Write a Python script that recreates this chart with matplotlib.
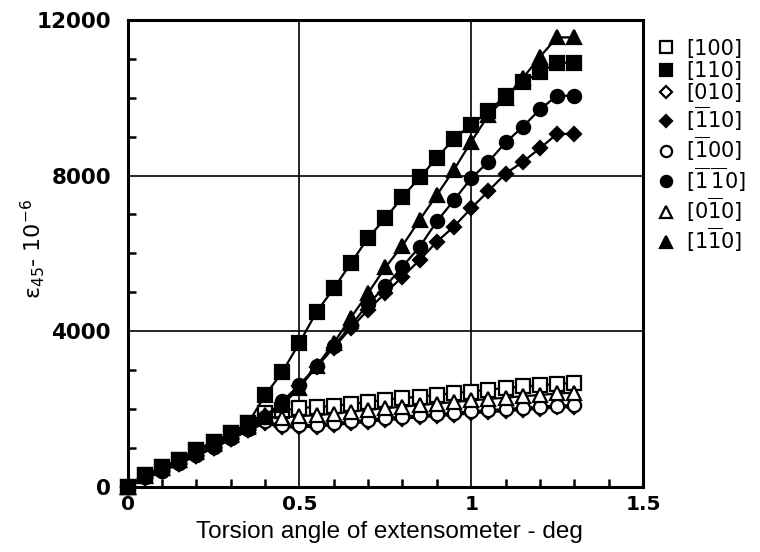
import matplotlib
matplotlib.use("Agg")
import matplotlib.pyplot as plt
from matplotlib.lines import Line2D
from matplotlib.ticker import MultipleLocator

# ---- data (torsion angle in deg, strain in 1e-6) ----
angle = [0.00, 0.05, 0.10, 0.15, 0.20, 0.25, 0.30, 0.35, 0.40, 0.45, 0.50, 0.55, 0.60,
         0.65, 0.70, 0.75, 0.80, 0.85, 0.90, 0.95, 1.00, 1.05, 1.10, 1.15, 1.20, 1.25, 1.30]

s_100 = [0, 300, 500, 700, 950, 1160, 1380, 1630, 1900, 1950, 2030, 2050, 2080, 2130,
         2180, 2240, 2280, 2320, 2360, 2410, 2450, 2500, 2540, 2580, 2610, 2650, 2670]
s_110 = [0, 300, 500, 700, 950, 1160, 1380, 1630, 2350, 2950, 3700, 4500, 5100, 5750,
         6400, 6900, 7450, 7950, 8450, 8950, 9300, 9650, 10050, 10400, 10650, 10900, 10900]
s_010 = [0, 230, 400, 600, 800, 1000, 1220, 1450, 1630, 1530, 1530, 1550, 1590, 1630,
         1670, 1720, 1750, 1790, 1820, 1850, 1890, 1920, 1950, 1980, 2010, 2040, 2050]
s_m110 = [0, 230, 400, 600, 800, 1000, 1220, 1450, 1750, 2150, 2600, 3080, 3580, 4080,
          4550, 4980, 5400, 5830, 6300, 6690, 7160, 7600, 8050, 8350, 8700, 9070, 9070]
s_m100 = [0, 250, 420, 620, 830, 1030, 1250, 1480, 1680, 1580, 1580, 1600, 1640, 1680,
          1720, 1770, 1800, 1840, 1870, 1900, 1940, 1970, 2000, 2030, 2060, 2090, 2100]
s_m1m10 = [0, 250, 420, 620, 830, 1030, 1250, 1480, 1800, 2200, 2620, 3100, 3620, 4150,
           4700, 5150, 5660, 6170, 6820, 7370, 7930, 8350, 8850, 9250, 9700, 10050, 10050]
s_0m10 = [0, 290, 480, 680, 920, 1130, 1350, 1600, 1800, 1780, 1820, 1840, 1880, 1930,
          1980, 2020, 2060, 2100, 2140, 2180, 2220, 2260, 2290, 2330, 2360, 2400, 2420]
s_1m10 = [0, 280, 480, 680, 900, 1100, 1320, 1550, 1850, 2100, 2550, 3100, 3700, 4350,
          4980, 5640, 6200, 6860, 7500, 8150, 8870, 9550, 10000, 10500, 11050, 11550, 11550]

labels = [r"[100]", r"[110]", r"[010]", r"[$\overline{1}$10]", r"[$\overline{1}$00]",
          r"[$\overline{1}\,\overline{1}$0]", r"[0$\overline{1}$0]", r"[1$\overline{1}$0]"]
series = [s_100, s_110, s_010, s_m110, s_m100, s_m1m10, s_0m10, s_1m10]
markers = ["s", "s", "D", "D", "o", "o", "^", "^"]
filled = [False, True, False, True, False, True, False, True]
msizes = [9.5, 9.5, 7, 7, 9.5, 9.5, 10.5, 10.5]

x_ticks = [0, 0.5, 1, 1.5]
x_ticklabels = ["0", "0.5", "1", "1.5"]
y_ticks = [0, 4000, 8000, 12000]
y_ticklabels = ["0", "4000", "8000", "12000"]

fig = plt.figure(figsize=(7.6, 5.52), dpi=100)
ax = fig.add_axes([0.168, 0.118, 0.678, 0.846])

handles = []
for ys, lab, m, f, ms in zip(series, labels, markers, filled, msizes):
    fc = "black" if f else "white"
    ax.plot(angle, ys, color="black", lw=1.6, marker=m, markersize=ms,
            markerfacecolor=fc, markeredgecolor="black", markeredgewidth=1.6,
            clip_on=False, zorder=3)
    handles.append(Line2D([], [], ls="none", marker=m, markersize=ms * 0.85,
                          markerfacecolor=fc, markeredgecolor="black",
                          markeredgewidth=1.6, label=lab))

ax.set_xlim(0, 1.5)
ax.set_ylim(0, 12000)
ax.set_xticks(x_ticks)
ax.set_xticklabels(x_ticklabels)
ax.set_yticks(y_ticks)
ax.set_yticklabels(y_ticklabels)
ax.xaxis.set_minor_locator(MultipleLocator(0.1))
ax.yaxis.set_minor_locator(MultipleLocator(1000))
ax.tick_params(which="both", direction="in", top=False, right=False, width=1.8)
ax.tick_params(which="major", length=0)
ax.tick_params(which="minor", length=6)
ax.tick_params(axis="x", which="major", pad=6)
ax.tick_params(axis="y", which="major", pad=12)
for lbl in ax.get_xticklabels():
    lbl.set_fontfamily("DejaVu Sans")
    lbl.set_fontweight("bold")
    lbl.set_fontsize(14.5)
for lbl in ax.get_yticklabels():
    lbl.set_fontfamily("DejaVu Sans")
    lbl.set_fontweight("bold")
    lbl.set_fontsize(15.5)

ax.grid(True, which="major", color="black", lw=1.2)
ax.set_axisbelow(True)
for sp in ax.spines.values():
    sp.set_linewidth(2.2)

fig.text(389.5 / 760, 1 - 538 / 552, "Torsion angle of extensometer - deg",
         ha="center", va="baseline", fontsize=17.5, family="Liberation Sans")
fig.text(33 / 760, 1 - 249 / 552, "ε$_{45}$- 10$^{-6}$", rotation=90,
         ha="center", va="center", fontsize=16, family="DejaVu Sans")

fig.legend(handles=handles, loc="upper left", bbox_to_anchor=(638 / 760, 1 - 20 / 552),
           frameon=False, handlelength=0.9, handletextpad=0.5, labelspacing=0.1,
           prop={"family": "DejaVu Sans", "size": 15})

fig.savefig("out.png", dpi=100)
